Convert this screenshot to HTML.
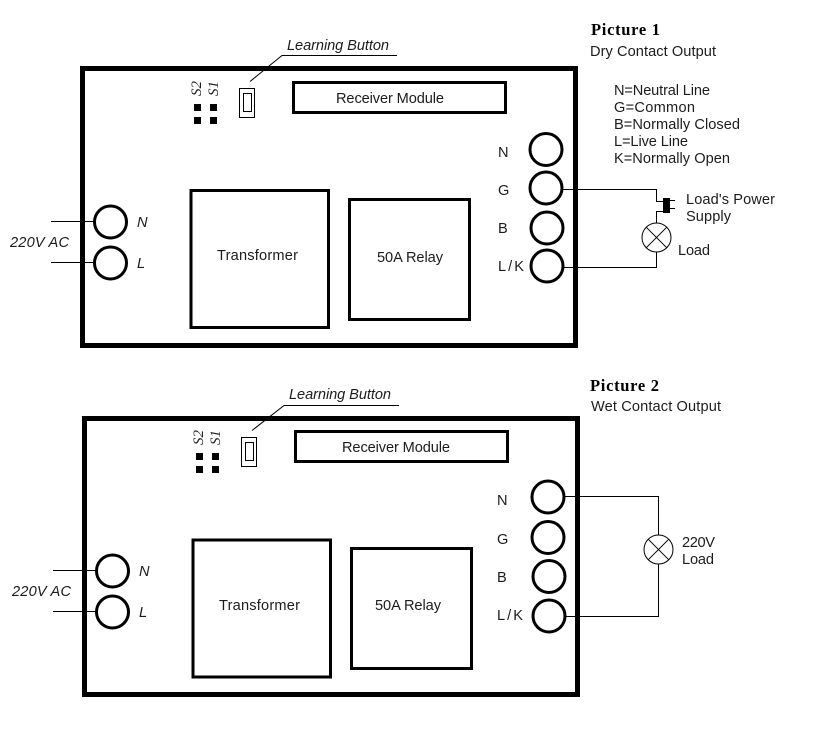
<!DOCTYPE html>
<html>
<head>
<meta charset="utf-8">
<style>
html,body{margin:0;padding:0;background:#fff}
svg{display:block}
text{font-family:"Liberation Sans",sans-serif;font-size:14.6px;fill:#1c1c1c}
.i{font-style:italic}
.s{font-family:"Liberation Serif",serif;font-style:italic;font-size:15px;fill:#222}
.h{font-family:"Liberation Serif",serif;font-weight:bold;font-size:16.5px;fill:#000}
</style>
</head>
<body>
<svg width="836" height="742" viewBox="0 0 836 742" xmlns="http://www.w3.org/2000/svg">
<rect width="836" height="742" fill="#fff"/>

<!-- Picture 1 -->
<g fill="none" stroke="#000">
  <rect x="82.5" y="68.5" width="493" height="277" stroke-width="5"/>
  <rect x="293.5" y="82.5" width="212" height="30" stroke-width="3"/>
  <rect x="191" y="190.5" width="137.5" height="137" stroke-width="3"/>
  <rect x="349.5" y="199.5" width="120" height="120" stroke-width="3"/>
  <rect x="239.5" y="88.5" width="15" height="29" stroke-width="1"/>
  <rect x="243.5" y="93.5" width="8" height="18" stroke-width="1"/>
  <path d="M250 81.5 L282 55.5 H397" stroke-width="1"/>
  <path d="M51 221.5H94M51 262.5H94" stroke-width="1"/>
  <circle cx="110.5" cy="222" r="16" stroke-width="3"/>
  <circle cx="110.5" cy="263" r="16" stroke-width="3"/>
  <circle cx="546" cy="149.5" r="16" stroke-width="3"/>
  <circle cx="546" cy="188" r="16" stroke-width="3"/>
  <circle cx="547" cy="228" r="16" stroke-width="3"/>
  <circle cx="547" cy="266" r="16" stroke-width="3"/>
  <path d="M562 189.5H656.5V201.5H663M663 211.5H656.5V223M656.5 252V267.5H563" stroke-width="1"/>
  <path d="M670 200.5H675M670 208.5H675" stroke-width="1"/>
  <circle cx="656.5" cy="237.5" r="14.5" stroke-width="1"/>
  <path d="M646.2 227.2L666.8 247.8M666.8 227.2L646.2 247.8" stroke-width="1"/>
</g>
<rect x="663" y="198" width="7" height="15" fill="#000"/>
<rect x="194" y="104" width="7" height="7" fill="#000"/>
<rect x="210" y="104" width="7" height="7" fill="#000"/>
<rect x="194" y="117" width="7" height="7" fill="#000"/>
<rect x="210" y="117" width="7" height="7" fill="#000"/>

<text class="h" x="591" y="35" textLength="69">Picture 1</text>
<text x="590" y="56" textLength="126">Dry Contact Output</text>
<text class="i" x="287" y="50" textLength="102">Learning Button</text>
<text class="s" transform="translate(201,96) rotate(-90)" textLength="15">S2</text>
<text class="s" transform="translate(218,96) rotate(-90)" textLength="15">S1</text>
<text x="336" y="103" textLength="108">Receiver Module</text>
<text x="614" y="95" textLength="96">N=Neutral Line</text>
<text x="614" y="112" textLength="81">G=Common</text>
<text x="614" y="129" textLength="126">B=Normally Closed</text>
<text x="614" y="146" textLength="74">L=Live Line</text>
<text x="614" y="163" textLength="116">K=Normally Open</text>
<text x="498" y="157">N</text>
<text x="498" y="195">G</text>
<text x="498" y="233">B</text>
<text x="498" y="271" textLength="26">L/K</text>
<text x="686" y="204" textLength="89">Load's Power</text>
<text x="686" y="221" textLength="45">Supply</text>
<text x="678" y="255" textLength="32">Load</text>
<text x="217" y="260" textLength="81">Transformer</text>
<text x="377" y="262" textLength="66">50A Relay</text>
<text class="i" x="137" y="227">N</text>
<text class="i" x="137" y="268">L</text>
<text class="i" x="10" y="247" textLength="59">220V AC</text>

<!-- Picture 2 -->
<g fill="none" stroke="#000">
  <rect x="84.5" y="418.5" width="493" height="276" stroke-width="5"/>
  <rect x="295.5" y="431.5" width="212" height="30" stroke-width="3"/>
  <rect x="193" y="540" width="137.5" height="137" stroke-width="3"/>
  <rect x="351.5" y="548.5" width="120" height="120" stroke-width="3"/>
  <rect x="241.5" y="437.5" width="15" height="29" stroke-width="1"/>
  <rect x="245.5" y="442.5" width="8" height="18" stroke-width="1"/>
  <path d="M252 430.5 L284 405.5 H399" stroke-width="1"/>
  <path d="M53 570.5H96M53 611.5H96" stroke-width="1"/>
  <circle cx="112.5" cy="571" r="16" stroke-width="3"/>
  <circle cx="112.5" cy="612" r="16" stroke-width="3"/>
  <circle cx="548" cy="497" r="16" stroke-width="3"/>
  <circle cx="548" cy="537.5" r="16" stroke-width="3"/>
  <circle cx="549" cy="576.5" r="16" stroke-width="3"/>
  <circle cx="549" cy="616" r="16" stroke-width="3"/>
  <path d="M564 496.5H658.5V535M658.5 564V616.5H565" stroke-width="1"/>
  <circle cx="658.5" cy="549.5" r="14.5" stroke-width="1"/>
  <path d="M648.2 539.2L668.8 559.8M668.8 539.2L648.2 559.8" stroke-width="1"/>
</g>
<rect x="196" y="453" width="7" height="7" fill="#000"/>
<rect x="212" y="453" width="7" height="7" fill="#000"/>
<rect x="196" y="466" width="7" height="7" fill="#000"/>
<rect x="212" y="466" width="7" height="7" fill="#000"/>

<text class="h" x="590" y="391" textLength="69">Picture 2</text>
<text x="591" y="411" textLength="130">Wet Contact Output</text>
<text class="i" x="289" y="399" textLength="102">Learning Button</text>
<text class="s" transform="translate(203,445) rotate(-90)" textLength="15">S2</text>
<text class="s" transform="translate(220,445) rotate(-90)" textLength="15">S1</text>
<text x="342" y="452" textLength="108">Receiver Module</text>
<text x="497" y="505">N</text>
<text x="497" y="544">G</text>
<text x="497" y="582">B</text>
<text x="497" y="620" textLength="26">L/K</text>
<text x="682" y="547" textLength="33">220V</text>
<text x="682" y="564" textLength="32">Load</text>
<text x="219" y="610" textLength="81">Transformer</text>
<text x="375" y="610" textLength="66">50A Relay</text>
<text class="i" x="139" y="576">N</text>
<text class="i" x="139" y="617">L</text>
<text class="i" x="12" y="596" textLength="59">220V AC</text>
</svg>
</body>
</html>
